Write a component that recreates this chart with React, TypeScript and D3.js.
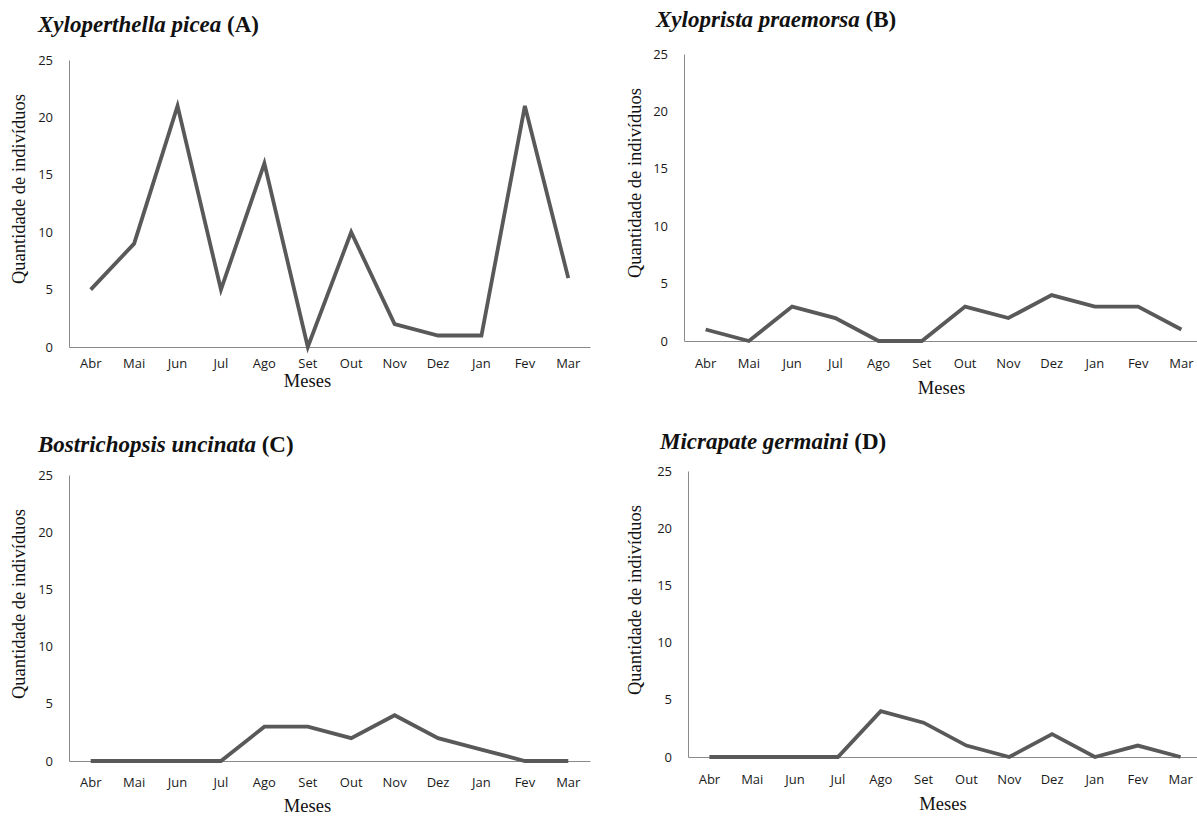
import React, { useRef, useEffect } from "react";
import * as d3 from "d3";

const months = ["Abr", "Mai", "Jun", "Jul", "Ago", "Set", "Out", "Nov", "Dez", "Jan", "Fev", "Mar"];
const yTicks = [0, 5, 10, 15, 20, 25];

const picea = [5, 9, 21, 5, 16, 0, 10, 2, 1, 1, 21, 6];
const praemorsa = [1, 0, 3, 2, 0, 0, 3, 2, 4, 3, 3, 1];
const uncinata = [0, 0, 0, 0, 3, 3, 2, 4, 2, 1, 0, 0];
const germaini = [0, 0, 0, 0, 4, 3, 1, 0, 2, 0, 1, 0];

const species = ["Xyloperthella picea", "Xyloprista praemorsa", "Bostrichopsis uncinata", "Micrapate germaini"];
const letters = ["(A)", "(B)", "(C)", "(D)"];

// layout of each panel (axis origin etc.)
const panels = [
  { data: picea, x0: 69, x1: 590, yTop: 60, yBot: 347, xPad: 12, titleX: 38, titleY: 32, labY: 189, labX: 18, mesesY: 387 },
  { data: praemorsa, x0: 684, x1: 1203, yTop: 54, yBot: 341, xPad: 18, titleX: 656, titleY: 27, labY: 183, labX: 634, mesesY: 394 },
  { data: uncinata, x0: 69, x1: 590, yTop: 475, yBot: 761, xPad: 17, titleX: 38, titleY: 452, labY: 604, labX: 18, mesesY: 812 },
  { data: germaini, x0: 688, x1: 1202, yTop: 471, yBot: 757, xPad: 18, titleX: 660, titleY: 449, labY: 600, labX: 634, mesesY: 810 },
];

const App = () => {
  const ref = useRef<SVGSVGElement>(null);

  useEffect(() => {
    const svg = d3.select(ref.current);
    svg.selectAll("*").remove();

    panels.forEach((p, i) => {
      const x = d3.scaleBand().domain(months).range([p.x0, p.x1]);
      const y = d3.scaleLinear().domain([0, 25]).range([p.yBot, p.yTop]);
      const g = svg.append("g");

      // y axis
      const ya = g.append("g")
        .attr("transform", `translate(${p.x0},0)`)
        .call(d3.axisLeft(y).tickValues(yTicks).tickSize(0).tickPadding(16));
      ya.select(".domain").attr("stroke", "#8a8a8a").attr("stroke-width", 1);
      ya.selectAll("text")
        .attr("font-family", "'Open Sans', sans-serif")
        .attr("font-size", 13)
        .attr("fill", "#1a1a1a");

      // x axis
      const xa = g.append("g")
        .attr("transform", `translate(0,${p.yBot})`)
        .call(d3.axisBottom(x).tickSize(0).tickPadding(p.xPad));
      xa.select(".domain").attr("stroke", "#8a8a8a").attr("stroke-width", 1);
      xa.selectAll("text")
        .attr("font-family", "'Open Sans', sans-serif")
        .attr("font-size", 13)
        .attr("fill", "#1a1a1a");

      const line = d3.line<number>()
        .x((d, j) => (x(months[j]) as number) + x.bandwidth() / 2)
        .y(d => y(d));

      g.append("path")
        .datum(p.data)
        .attr("d", line)
        .attr("fill", "none")
        .attr("stroke", "#595959")
        .attr("stroke-width", 3.8)
        .attr("stroke-linejoin", "miter");

      // title
      const t = g.append("text")
        .attr("x", p.titleX)
        .attr("y", p.titleY)
        .attr("font-family", "'Liberation Serif', serif")
        .attr("font-size", 23)
        .attr("font-weight", "bold")
        .attr("fill", "#111");
      t.append("tspan").attr("font-style", "italic").text(species[i]);
      t.append("tspan").text(" " + letters[i]);

      // axis titles
      g.append("text")
        .attr("transform", `translate(${p.labX + 7},${p.labY}) rotate(-90)`)
        .attr("text-anchor", "middle")
        .attr("font-family", "'Liberation Serif', serif")
        .attr("font-size", 18.5)
        .attr("fill", "#111")
        .text("Quantidade de indivíduos");

      g.append("text")
        .attr("x", (p.x0 + p.x1) / 2 + (i % 2 === 0 ? -22 : -2))
        .attr("y", p.mesesY)
        .attr("text-anchor", "middle")
        .attr("font-family", "'Liberation Serif', serif")
        .attr("font-size", 18.5)
        .attr("fill", "#111")
        .text("Meses");
    });
  }, []);

  return (
    <div style={{ position: "absolute", left: 0, top: 0 }}>
      <svg ref={ref} width={1197} height={816} style={{ display: "block", background: "#fff" }}></svg>
    </div>
  );
};

export default App;
